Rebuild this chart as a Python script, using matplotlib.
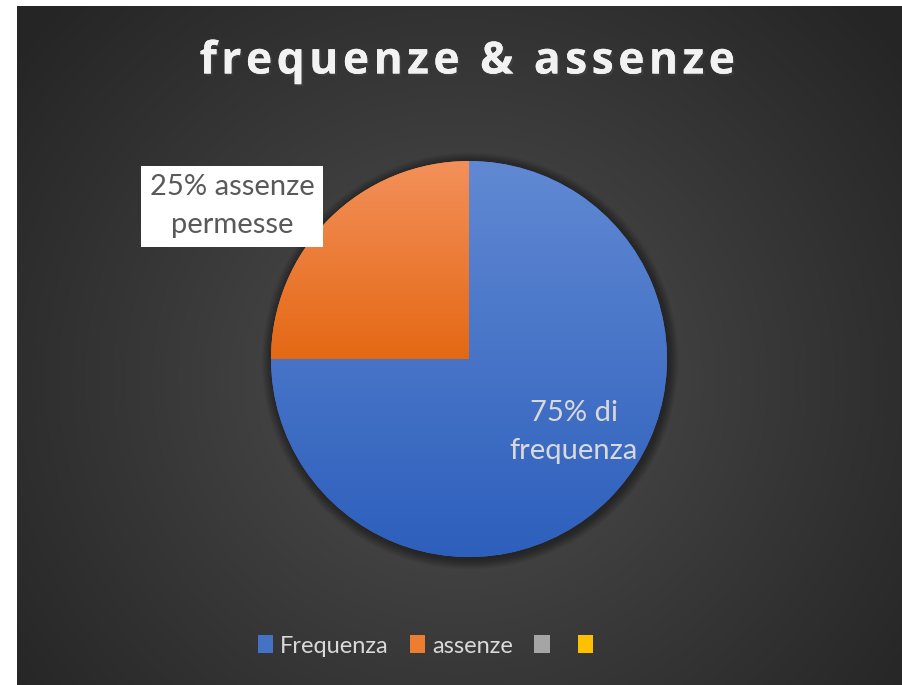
import numpy as np
import matplotlib
matplotlib.use("Agg")
import matplotlib.pyplot as plt
from matplotlib.patches import Patch, Circle
from matplotlib import patheffects

# dati del grafico
categorie = ["Frequenza", "assenze", "", ""]
valori = [75, 25, 0, 0]
etichette = ["75% di\nfrequenza", "25% assenze\npermesse"]
titolo = "frequenze & assenze"

# colori (chiaro in alto, scuro in basso)
colori_alto = ["#6189D3", "#F3905A", "#B5B5B5", "#FFCB3A"]
colori_basso = ["#2D5FBC", "#E46814", "#959595", "#F0B800"]
colori_medi = ["#4472C4", "#ED7D31", "#A5A5A5", "#FFC000"]

plt.rcParams["font.family"] = ["Lato", "DejaVu Sans"]

W, H = 903, 685
fig = plt.figure(figsize=(W / 100, H / 100), dpi=100)
fig.patch.set_facecolor("white")

# sfondo con gradiente radiale
bg = fig.add_axes([17 / W, 0, (W - 17) / W, (H - 6) / H])
bg.set_axis_off()
yy, xx = np.mgrid[0:1:400j, 0:1:500j]
d = np.sqrt(((xx - 0.5) * 1.25) ** 2 + (yy - 0.55) ** 2)
t = np.clip(d / 0.8, 0, 1) ** 0.9
c0 = np.array([0x52, 0x52, 0x52]) / 255
c1 = np.array([0x25, 0x25, 0x25]) / 255
img = c0[None, None, :] * (1 - t[..., None]) + c1[None, None, :] * t[..., None]
bg.imshow(img, extent=[0, 1, 0, 1], aspect="auto", origin="upper")
bg.set_xlim(0, 1)
bg.set_ylim(0, 1)

# torta
ax = fig.add_axes([271 / W, (H - 557) / H, 396 / W, 396 / H])
ax.set_axis_off()
wedges, _ = ax.pie(valori, startangle=90, counterclock=False, radius=1,
                   colors=colori_medi, wedgeprops=dict(linewidth=0))
ax.set_aspect("equal")

# ombra morbida
for k in range(16):
    ax.add_patch(Circle((0.006, -0.01), 1 + 0.0035 * k, color="black",
                        alpha=0.022, lw=0, zorder=0, clip_on=False))

# riempimento con gradiente verticale per ogni spicchio
for w, ca, cb in zip(wedges, colori_alto, colori_basso):
    if w.theta2 - w.theta1 == 0:
        continue
    bb = w.get_path().get_extents()
    a = np.array(matplotlib.colors.to_rgb(ca))
    b = np.array(matplotlib.colors.to_rgb(cb))
    s = np.linspace(0, 1, 256)[:, None, None]
    grad = a[None, None, :] * (1 - s) + b[None, None, :] * s
    im = ax.imshow(grad, extent=[bb.x0, bb.x1, bb.y0, bb.y1], origin="upper",
                   aspect="auto", zorder=2)
    im.set_clip_path(w)
    w.set_zorder(1)
ax.set_xlim(-1, 1)
ax.set_ylim(-1, 1)

# etichette dati
ax.text(0.53, -0.37, etichette[0], ha="center", va="center", fontsize=21,
        color="#D9D9D9", linespacing=1.55, zorder=5)
ax.text(-1.197, 0.772, etichette[1], ha="center", va="center", fontsize=21,
        color="#595959", linespacing=1.55, zorder=5, clip_on=False,
        bbox=dict(boxstyle="square,pad=0.3", fc="white", ec="none"))

# titolo (spaziatura tra le lettere con hair space)
titolo_spaziato = "\u200a".join(titolo)
fig.text(468 / W, 1 - 62 / H, titolo_spaziato, ha="center", va="center",
         fontsize=32, fontweight="bold", color="#F2F2F2",
         family=["Open Sans", "DejaVu Sans"],
         path_effects=[patheffects.withSimplePatchShadow(offset=(1.5, -1.5), alpha=0.45),
                       patheffects.Normal()])

# legenda
handles = [Patch(facecolor=c, edgecolor="none") for c in colori_medi]
leg = fig.legend(handles, categorie, loc="center", bbox_to_anchor=(429 / W, 1 - 646 / H),
                 ncol=4, frameon=False, fontsize=17, labelcolor="#D9D9D9",
                 handlelength=0.65, handleheight=0.8, handletextpad=0.3,
                 columnspacing=0.9)

fig.savefig("out.png", dpi=100, facecolor=fig.get_facecolor())
